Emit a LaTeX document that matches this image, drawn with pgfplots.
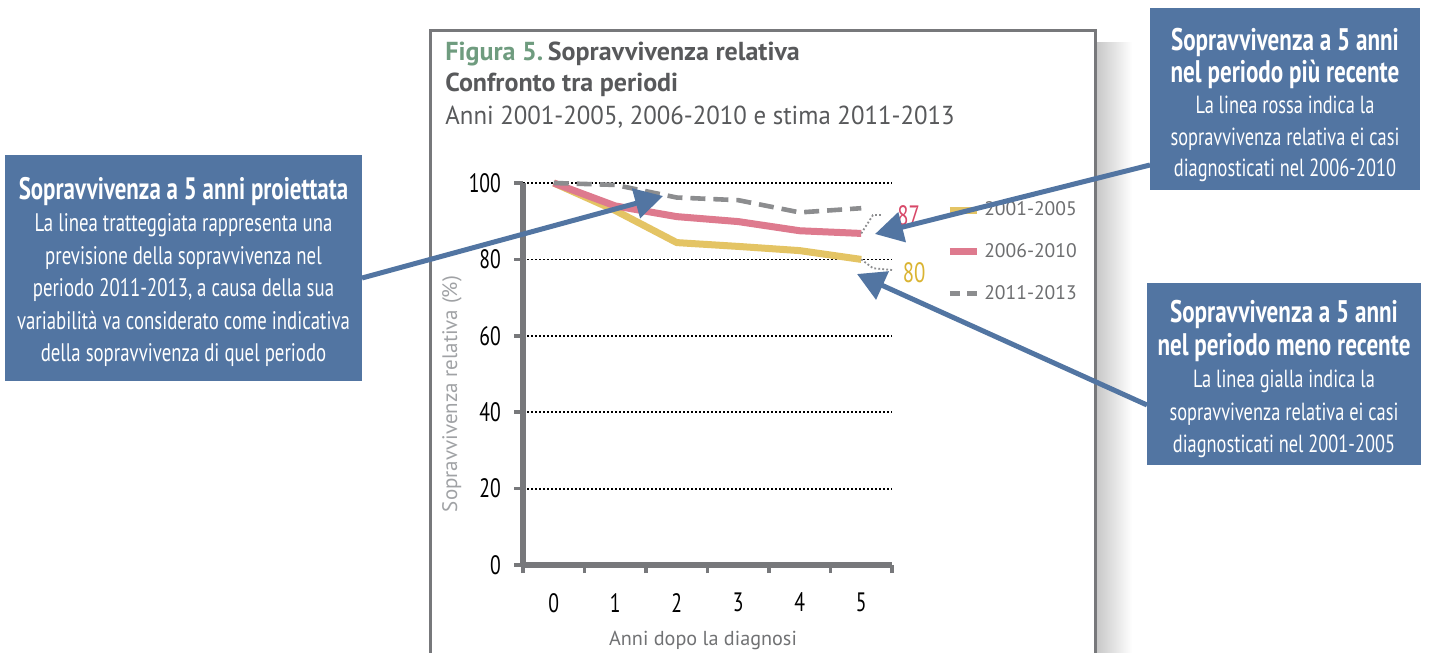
\documentclass[border=0pt]{standalone}
\usepackage{fontspec}
\setmainfont{PT Sans}
\newfontfamily\cond[FakeStretch=0.74]{PT Sans}
\newfontfamily\semicond[FakeStretch=0.955]{PT Sans}
\usepackage{pgfplots}
\pgfplotsset{compat=1.18}
\usetikzlibrary{arrows.meta}
\definecolor{boxblue}{RGB}{82,117,162}
\definecolor{yel}{RGB}{228,196,100}
\definecolor{pnk}{RGB}{222,122,142}
\definecolor{dgrey}{RGB}{140,141,143}
\definecolor{axgrey}{RGB}{119,120,123}
\definecolor{txtgrey}{RGB}{88,89,91}
\definecolor{leggrey}{RGB}{109,110,112}
\definecolor{lightgrey}{RGB}{160,162,165}
\definecolor{figgreen}{RGB}{111,156,127}
\definecolor{lab87}{RGB}{216,72,104}
\definecolor{lab80}{RGB}{218,180,50}
\begin{document}
\begin{tikzpicture}[x=0.5pt,y=0.5pt]
\path[use as bounding box] (0,0) rectangle (1435,-653);
\begin{scope}
\clip (0,0) rectangle (1435,-653);
\shade[left color=black!22, right color=white] (1096,-42) rectangle (1132,-660);
\draw[axgrey, line width=1.4pt, fill=white] (430.5,-30.5) rectangle (1095.5,-700);
\end{scope}
% title
\node[anchor=base west, inner sep=0, font=\fontsize{13}{15}\selectfont] at (445,-60) {\textcolor{figgreen}{\bfseries Figura 5.}\hspace{0.18em}\textcolor{txtgrey}{\bfseries Sopravvivenza relativa}};
\node[anchor=base west, inner sep=0, font=\fontsize{13}{15}\selectfont, text=txtgrey] at (445,-91) {\bfseries Confronto tra periodi};
\node[anchor=base west, inner sep=0, font=\semicond\fontsize{13}{15}\selectfont, text=txtgrey] at (445,-124) {Anni 2001-2005, 2006-2010 e stima 2011-2013};
\begin{axis}[
  at={(261.5pt,-282.5pt)}, anchor=south west, scale only axis,
  width=184.5pt, height=191pt,
  xmin=-0.5, xmax=5.5, ymin=0, ymax=100, clip=false,
  axis lines*=left, axis line style={-, axgrey, line width=2.8pt},
  xtick={0,...,5}, minor xtick={-0.5,0.5,...,5.5}, ytick={0,20,...,100},
  major x tick style={draw=none},
  minor x tick style={axgrey, line width=1.8pt},
  y tick style={axgrey, line width=1.8pt},
  tick align=outside, major tick length=4.5pt, minor tick length=4pt,
  ymajorgrids, grid style={black, line width=0.9pt, dash pattern=on 0.9pt off 1.1pt},
  /pgf/number format/assume math mode=true,
  ticklabel style={font=\cond\fontsize{13.3}{13}\selectfont, text=black},
  xticklabel style={yshift=-6pt},
  yticklabel style={xshift=-3pt},
  legend style={at={(rel axis cs:1.146,0.963)}, anchor=north west, draw=none, fill=none,
    font=\fontsize{9.8}{12}\selectfont, text=leggrey, row sep=8.4pt, inner sep=0pt},
  legend cell align=left,
  legend image code/.code={\draw[line width=3.5pt,#1] (0pt,0pt) -- (13.5pt,0pt);},
]
\addplot[yel, line width=3.5pt, line join=round] coordinates {(0,100)(1,92.8)(2,84.4)(3,83.4)(4,82.3)(5,80.0)};
\addlegendentry{2001-2005}
\addplot[pnk, line width=3.5pt, line join=round] coordinates {(0,100)(1,94.0)(2,91.2)(3,89.9)(4,87.5)(5,86.8)};
\addlegendentry{2006-2010}
\addplot[dgrey, line width=2.3pt, dash pattern=on 7.5pt off 4pt,
  legend image code/.code={\draw[dgrey, line width=2.4pt, dash pattern=on 5pt off 3.5pt] (0pt,0pt) -- (13.5pt,0pt);}]
  coordinates {(0,100)(1,99.5)(2,96.2)(3,95.5)(4,92.3)(5,93.4)};
\addlegendentry{2011-2013}
\draw[dgrey, line width=0.9pt, dash pattern=on 0.9pt off 1.1pt] (axis cs:5,86.8) -- (axis cs:5.19,91.6) -- (axis cs:5.35,91.6);
\draw[dgrey, line width=0.9pt, dash pattern=on 0.9pt off 1.1pt] (axis cs:5,80) -- (axis cs:5.19,77.7) -- (axis cs:5.52,77.2);
\node[lab87, anchor=west, inner sep=0, font=\cond\fontsize{14}{14}\selectfont] at (axis cs:5.58,91.4) {87};
\node[lab80, anchor=west, inner sep=0, font=\cond\fontsize{14}{14}\selectfont] at (axis cs:5.67,76.4) {80};
\end{axis}
\node[text=lightgrey, rotate=90, font=\fontsize{10.5}{11}\selectfont] at (452,-394) {Sopravvivenza relativa (\%)};
\node[text=txtgrey!85, font=\fontsize{10.1}{11}\selectfont] at (703,-640) {Anni dopo la diagnosi};
% boxes
\fill[boxblue] (5,-155) rectangle (362,-381);
\fill[boxblue] (1150,-8) rectangle (1420,-190);
\fill[boxblue] (1147,-283) rectangle (1421,-465);
\node[text=white, align=center, inner sep=0, font=\cond\fontsize{12.7}{16.25}\selectfont] at (183.5,-272) {{\bfseries\fontsize{15.5}{16.25}\selectfont Sopravvivenza a 5 anni proiettata}\\
La linea tratteggiata rappresenta una\\ previsione della sopravvivenza nel\\ periodo 2011-2013, a causa della sua\\ variabilità va considerato come indicativa\\ della sopravvivenza di quel periodo};
\node[text=white, align=center, inner sep=0, font=\cond\fontsize{12.4}{15.75}\selectfont] at (1285,-105) {{\bfseries\fontsize{15.6}{15.75}\selectfont Sopravvivenza a 5 anni}\\ {\bfseries\fontsize{15.6}{15.75}\selectfont nel periodo più recente}\\
La linea rossa indica la\\ sopravvivenza relativa ei casi\\ diagnosticati nel 2006-2010};
\node[text=white, align=center, inner sep=0, font=\cond\fontsize{12.4}{16.25}\selectfont] at (1284,-379) {{\bfseries\fontsize{15.6}{16.25}\selectfont Sopravvivenza a 5 anni}\\ {\bfseries\fontsize{15.6}{16.25}\selectfont nel periodo meno recente}\\
La linea gialla indica la\\ sopravvivenza relativa ei casi\\ diagnosticati nel 2001-2005};
% arrows
\draw[boxblue, line width=2.5pt, -{Triangle[length=14pt,width=15pt]}] (362,-278) -- (663,-196);
\draw[boxblue, line width=2.5pt, -{Triangle[length=14pt,width=15pt]}] (1150,-165) -- (875,-234);
\draw[boxblue, line width=2.5pt, -{Triangle[length=14pt,width=15pt]}] (1147,-405) -- (857,-274);
\end{tikzpicture}
\end{document}
